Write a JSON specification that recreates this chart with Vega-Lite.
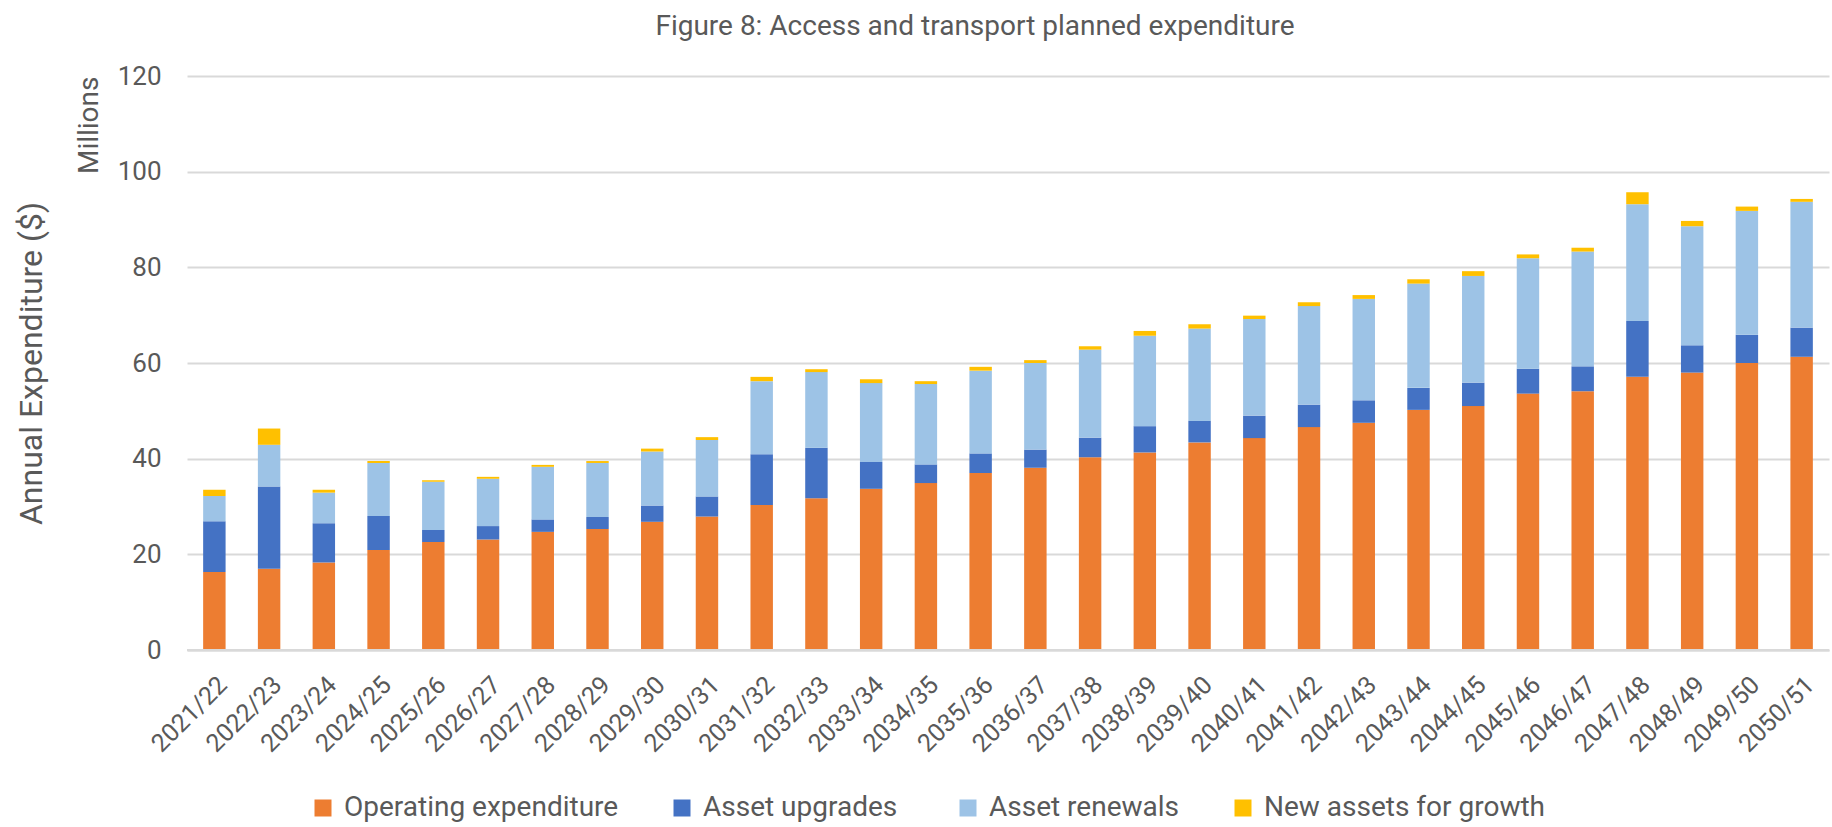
{
  "$schema": "https://vega.github.io/schema/vega-lite/v6.json",
  "width": 1642,
  "height": 574,
  "autosize": {"type": "none"},
  "padding": {"left": 187, "top": 76, "right": 3, "bottom": 177},
  "background": "white",
  "title": {
    "text": "Figure 8: Access and transport planned expenditure",
    "font": "Roboto",
    "fontSize": 28,
    "fontWeight": "normal",
    "color": "#595959",
    "anchor": "middle",
    "offset": 22,
    "dx": -33
  },
  "config": {
    "view": {"stroke": null},
    "font": "Roboto",
    "axis": {"labelFont": "Roboto", "titleFont": "Roboto", "labelColor": "#595959", "titleColor": "#595959", "titleFontWeight": "normal"},
    "legend": {"labelFont": "Roboto", "labelColor": "#595959"}
  },
  "data": {
    "values": [
      {"year": "2021/22", "series": "Operating expenditure", "value": 16.3},
      {"year": "2021/22", "series": "Asset  upgrades", "value": 10.6},
      {"year": "2021/22", "series": "Asset renewals", "value": 5.3},
      {"year": "2021/22", "series": "New assets for growth", "value": 1.3},
      {"year": "2022/23", "series": "Operating expenditure", "value": 17.0},
      {"year": "2022/23", "series": "Asset  upgrades", "value": 17.2},
      {"year": "2022/23", "series": "Asset renewals", "value": 8.7},
      {"year": "2022/23", "series": "New assets for growth", "value": 3.4},
      {"year": "2023/24", "series": "Operating expenditure", "value": 18.3},
      {"year": "2023/24", "series": "Asset  upgrades", "value": 8.2},
      {"year": "2023/24", "series": "Asset renewals", "value": 6.4},
      {"year": "2023/24", "series": "New assets for growth", "value": 0.6},
      {"year": "2024/25", "series": "Operating expenditure", "value": 20.9},
      {"year": "2024/25", "series": "Asset  upgrades", "value": 7.1},
      {"year": "2024/25", "series": "Asset renewals", "value": 11.1},
      {"year": "2024/25", "series": "New assets for growth", "value": 0.4},
      {"year": "2025/26", "series": "Operating expenditure", "value": 22.6},
      {"year": "2025/26", "series": "Asset  upgrades", "value": 2.5},
      {"year": "2025/26", "series": "Asset renewals", "value": 10.1},
      {"year": "2025/26", "series": "New assets for growth", "value": 0.3},
      {"year": "2026/27", "series": "Operating expenditure", "value": 23.1},
      {"year": "2026/27", "series": "Asset  upgrades", "value": 2.8},
      {"year": "2026/27", "series": "Asset renewals", "value": 9.9},
      {"year": "2026/27", "series": "New assets for growth", "value": 0.4},
      {"year": "2027/28", "series": "Operating expenditure", "value": 24.7},
      {"year": "2027/28", "series": "Asset  upgrades", "value": 2.6},
      {"year": "2027/28", "series": "Asset renewals", "value": 11.0},
      {"year": "2027/28", "series": "New assets for growth", "value": 0.4},
      {"year": "2028/29", "series": "Operating expenditure", "value": 25.3},
      {"year": "2028/29", "series": "Asset  upgrades", "value": 2.5},
      {"year": "2028/29", "series": "Asset renewals", "value": 11.3},
      {"year": "2028/29", "series": "New assets for growth", "value": 0.4},
      {"year": "2029/30", "series": "Operating expenditure", "value": 26.8},
      {"year": "2029/30", "series": "Asset  upgrades", "value": 3.4},
      {"year": "2029/30", "series": "Asset renewals", "value": 11.3},
      {"year": "2029/30", "series": "New assets for growth", "value": 0.6},
      {"year": "2030/31", "series": "Operating expenditure", "value": 27.9},
      {"year": "2030/31", "series": "Asset  upgrades", "value": 4.2},
      {"year": "2030/31", "series": "Asset renewals", "value": 11.8},
      {"year": "2030/31", "series": "New assets for growth", "value": 0.6},
      {"year": "2031/32", "series": "Operating expenditure", "value": 30.3},
      {"year": "2031/32", "series": "Asset  upgrades", "value": 10.6},
      {"year": "2031/32", "series": "Asset renewals", "value": 15.3},
      {"year": "2031/32", "series": "New assets for growth", "value": 0.9},
      {"year": "2032/33", "series": "Operating expenditure", "value": 31.7},
      {"year": "2032/33", "series": "Asset  upgrades", "value": 10.6},
      {"year": "2032/33", "series": "Asset renewals", "value": 15.8},
      {"year": "2032/33", "series": "New assets for growth", "value": 0.6},
      {"year": "2033/34", "series": "Operating expenditure", "value": 33.7},
      {"year": "2033/34", "series": "Asset  upgrades", "value": 5.6},
      {"year": "2033/34", "series": "Asset renewals", "value": 16.5},
      {"year": "2033/34", "series": "New assets for growth", "value": 0.8},
      {"year": "2034/35", "series": "Operating expenditure", "value": 34.9},
      {"year": "2034/35", "series": "Asset  upgrades", "value": 3.9},
      {"year": "2034/35", "series": "Asset renewals", "value": 16.8},
      {"year": "2034/35", "series": "New assets for growth", "value": 0.6},
      {"year": "2035/36", "series": "Operating expenditure", "value": 37.0},
      {"year": "2035/36", "series": "Asset  upgrades", "value": 4.1},
      {"year": "2035/36", "series": "Asset renewals", "value": 17.3},
      {"year": "2035/36", "series": "New assets for growth", "value": 0.8},
      {"year": "2036/37", "series": "Operating expenditure", "value": 38.1},
      {"year": "2036/37", "series": "Asset  upgrades", "value": 3.8},
      {"year": "2036/37", "series": "Asset renewals", "value": 18.1},
      {"year": "2036/37", "series": "New assets for growth", "value": 0.6},
      {"year": "2037/38", "series": "Operating expenditure", "value": 40.3},
      {"year": "2037/38", "series": "Asset  upgrades", "value": 4.1},
      {"year": "2037/38", "series": "Asset renewals", "value": 18.4},
      {"year": "2037/38", "series": "New assets for growth", "value": 0.7},
      {"year": "2038/39", "series": "Operating expenditure", "value": 41.3},
      {"year": "2038/39", "series": "Asset  upgrades", "value": 5.5},
      {"year": "2038/39", "series": "Asset renewals", "value": 18.9},
      {"year": "2038/39", "series": "New assets for growth", "value": 1.0},
      {"year": "2039/40", "series": "Operating expenditure", "value": 43.4},
      {"year": "2039/40", "series": "Asset  upgrades", "value": 4.5},
      {"year": "2039/40", "series": "Asset renewals", "value": 19.3},
      {"year": "2039/40", "series": "New assets for growth", "value": 0.9},
      {"year": "2040/41", "series": "Operating expenditure", "value": 44.3},
      {"year": "2040/41", "series": "Asset  upgrades", "value": 4.7},
      {"year": "2040/41", "series": "Asset renewals", "value": 20.2},
      {"year": "2040/41", "series": "New assets for growth", "value": 0.7},
      {"year": "2041/42", "series": "Operating expenditure", "value": 46.6},
      {"year": "2041/42", "series": "Asset  upgrades", "value": 4.7},
      {"year": "2041/42", "series": "Asset renewals", "value": 20.6},
      {"year": "2041/42", "series": "New assets for growth", "value": 0.8},
      {"year": "2042/43", "series": "Operating expenditure", "value": 47.5},
      {"year": "2042/43", "series": "Asset  upgrades", "value": 4.7},
      {"year": "2042/43", "series": "Asset renewals", "value": 21.2},
      {"year": "2042/43", "series": "New assets for growth", "value": 0.8},
      {"year": "2043/44", "series": "Operating expenditure", "value": 50.2},
      {"year": "2043/44", "series": "Asset  upgrades", "value": 4.6},
      {"year": "2043/44", "series": "Asset renewals", "value": 21.8},
      {"year": "2043/44", "series": "New assets for growth", "value": 0.9},
      {"year": "2044/45", "series": "Operating expenditure", "value": 51.0},
      {"year": "2044/45", "series": "Asset  upgrades", "value": 4.9},
      {"year": "2044/45", "series": "Asset renewals", "value": 22.3},
      {"year": "2044/45", "series": "New assets for growth", "value": 1.0},
      {"year": "2045/46", "series": "Operating expenditure", "value": 53.6},
      {"year": "2045/46", "series": "Asset  upgrades", "value": 5.2},
      {"year": "2045/46", "series": "Asset renewals", "value": 23.1},
      {"year": "2045/46", "series": "New assets for growth", "value": 0.8},
      {"year": "2046/47", "series": "Operating expenditure", "value": 54.1},
      {"year": "2046/47", "series": "Asset  upgrades", "value": 5.2},
      {"year": "2046/47", "series": "Asset renewals", "value": 24.0},
      {"year": "2046/47", "series": "New assets for growth", "value": 0.8},
      {"year": "2047/48", "series": "Operating expenditure", "value": 57.1},
      {"year": "2047/48", "series": "Asset  upgrades", "value": 11.7},
      {"year": "2047/48", "series": "Asset renewals", "value": 24.4},
      {"year": "2047/48", "series": "New assets for growth", "value": 2.5},
      {"year": "2048/49", "series": "Operating expenditure", "value": 58.0},
      {"year": "2048/49", "series": "Asset  upgrades", "value": 5.7},
      {"year": "2048/49", "series": "Asset renewals", "value": 24.9},
      {"year": "2048/49", "series": "New assets for growth", "value": 1.1},
      {"year": "2049/50", "series": "Operating expenditure", "value": 60.0},
      {"year": "2049/50", "series": "Asset  upgrades", "value": 5.9},
      {"year": "2049/50", "series": "Asset renewals", "value": 25.9},
      {"year": "2049/50", "series": "New assets for growth", "value": 0.9},
      {"year": "2050/51", "series": "Operating expenditure", "value": 61.3},
      {"year": "2050/51", "series": "Asset  upgrades", "value": 6.1},
      {"year": "2050/51", "series": "Asset renewals", "value": 26.3},
      {"year": "2050/51", "series": "New assets for growth", "value": 0.6}
    ]
  },
  "layer": [
    {
      "mark": {"type": "bar"},
      "encoding": {
        "x": {
          "field": "year",
          "type": "nominal",
          "sort": null,
          "scale": {"paddingInner": 0.59, "paddingOuter": 0.295},
          "axis": {
            "title": null,
            "labelAngle": -45,
            "labelFontSize": 25,
            "labelPadding": 22,
            "ticks": false,
            "domain": true,
            "domainColor": "#D9D9D9",
            "domainWidth": 2
          }
        },
        "y": {
          "field": "value",
          "type": "quantitative",
          "stack": "zero",
          "scale": {"domain": [0, 120], "nice": false},
          "axis": {
            "title": "Millions",
            "titleAnchor": "end",
            "titleFontSize": 28,
            "titlePadding": 14,
            "values": [0, 20, 40, 60, 80, 100, 120],
            "labelFontSize": 26,
            "labelPadding": 26,
            "ticks": false,
            "domain": false,
            "grid": true,
            "gridColor": "#D9D9D9",
            "gridWidth": 2,
            "orient": "left"
          }
        },
        "order": {"field": "year", "type": "ordinal"},
        "color": {
          "field": "series",
          "type": "nominal",
          "sort": ["Operating expenditure", "Asset  upgrades", "Asset renewals", "New assets for growth"],
          "scale": {
            "domain": ["Operating expenditure", "Asset  upgrades", "Asset renewals", "New assets for growth"],
            "range": ["#ED7D31", "#4472C4", "#9DC3E6", "#FFC000"]
          },
          "legend": {
            "title": null,
            "orient": "none",
            "direction": "horizontal",
            "legendX": 122,
            "legendY": 718,
            "symbolType": "square",
            "symbolSize": 289,
            "symbolStrokeWidth": 0,
            "labelFontSize": 28,
            "labelOffset": 7,
            "labelLimit": 500,
            "columnPadding": 49
          }
        }
      }
    },
    {
      "mark": {"type": "rule", "color": "#D9D9D9", "strokeWidth": 2},
      "encoding": {
        "y": {
          "datum": 0,
          "type": "quantitative",
          "scale": {"domain": [0, 120], "nice": false},
          "axis": {
            "title": "Annual Expenditure ($)",
            "titleFontSize": 32,
            "titlePadding": 0,
            "titleAnchor": "middle",
            "labels": false,
            "ticks": false,
            "domain": false,
            "grid": false,
            "orient": "left",
            "offset": 139
          }
        }
      }
    }
  ],
  "resolve": {"axis": {"y": "independent"}}
}
